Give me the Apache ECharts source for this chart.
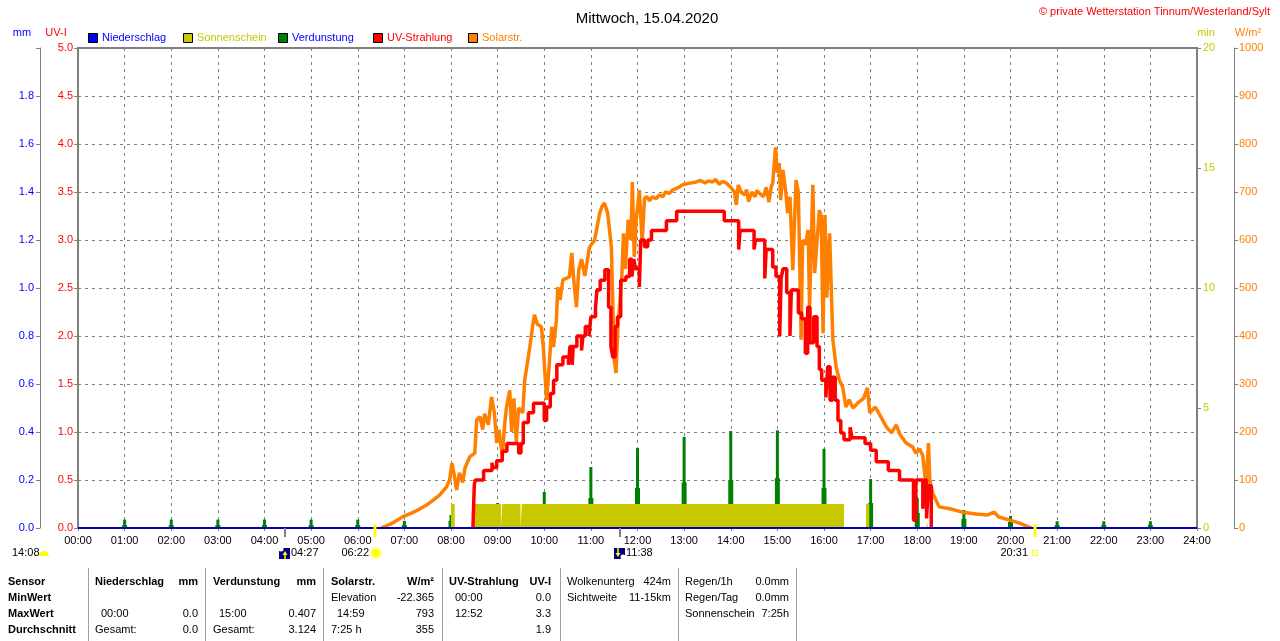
<!DOCTYPE html>
<html><head><meta charset="utf-8">
<script src="https://cdn.jsdelivr.net/npm/echarts@6.0.0/dist/echarts.min.js"></script>
<style>html,body{margin:0;padding:0;background:#fff}#c{width:1280px;height:641px}</style>
</head><body><div id="c"></div>
<script>
// ---------- DATA ----------
const xTickLabels = ['00:00','01:00','02:00','03:00','04:00','05:00','06:00','07:00','08:00','09:00','10:00','11:00','12:00','13:00','14:00','15:00','16:00','17:00','18:00','19:00','20:00','21:00','22:00','23:00','24:00'];

// Solar radiation [hour, W/m²]
const solarData = [[6.5,0],[6.7,8],[6.96,23],[7.2,33],[7.48,48],[7.62,58],[7.76,69],[7.9,85],[7.97,100],[8.02,135],[8.07,110],[8.12,79],[8.18,115],[8.25,95],[8.3,125],[8.4,148],[8.51,156],[8.55,225],[8.62,232],[8.68,205],[8.72,238],[8.76,240],[8.8,215],[8.87,273],[8.93,240],[8.98,177],[9.03,205],[9.1,148],[9.15,215],[9.19,252],[9.26,287],[9.3,200],[9.35,270],[9.4,180],[9.45,250],[9.54,240],[9.58,308],[9.64,345],[9.69,377],[9.75,420],[9.79,444],[9.85,425],[9.94,419],[9.98,377],[10.05,267],[10.1,330],[10.16,419],[10.2,377],[10.26,433],[10.29,502],[10.34,475],[10.4,517],[10.54,523],[10.59,573],[10.63,520],[10.69,460],[10.74,537],[10.8,560],[10.87,525],[10.97,585],[11.08,600],[11.19,656],[11.24,670],[11.29,677],[11.36,656],[11.44,585],[11.5,350],[11.54,323],[11.58,420],[11.66,517],[11.7,614],[11.74,540],[11.8,642],[11.86,600],[11.89,721],[11.93,565],[11.97,640],[12.04,704],[12.1,594],[12.15,687],[12.2,690],[12.26,682],[12.32,690],[12.4,686],[12.47,694],[12.54,690],[12.6,700],[12.68,697],[12.75,704],[12.85,708],[12.97,715],[13.1,718],[13.26,721],[13.35,724],[13.45,719],[13.52,723],[13.61,721],[13.68,726],[13.75,716],[13.82,722],[13.9,719],[14.0,710],[14.08,700],[14.12,673],[14.16,715],[14.22,700],[14.3,694],[14.34,705],[14.38,680],[14.45,700],[14.52,690],[14.56,703],[14.61,698],[14.7,690],[14.76,710],[14.82,679],[14.87,712],[14.9,719],[14.96,793],[15.0,740],[15.04,760],[15.07,683],[15.12,746],[15.18,700],[15.22,656],[15.27,690],[15.33,537],[15.4,725],[15.45,700],[15.51,392],[15.54,600],[15.6,590],[15.66,621],[15.69,460],[15.76,715],[15.8,531],[15.9,662],[15.94,650],[15.98,406],[16.02,652],[16.06,480],[16.12,614],[16.19,392],[16.26,336],[16.33,308],[16.4,294],[16.47,252],[16.54,267],[16.62,250],[16.72,260],[16.85,270],[16.93,292],[16.98,240],[17.1,252],[17.2,235],[17.34,210],[17.45,198],[17.55,215],[17.63,195],[17.76,177],[17.9,169],[17.97,156],[18.05,165],[18.12,150],[18.19,85],[18.24,177],[18.27,100],[18.33,73],[18.47,44],[18.7,40],[18.97,33],[19.26,29],[19.5,27],[19.65,33],[19.75,23],[19.97,17],[20.19,10],[20.4,2],[20.45,0]];

// UV index [hour, UV-I] (stepped)
const uvData = [[8.47,0],[8.5,0.45],[8.52,0.5],[8.7,0.6],[8.88,0.68],[8.9,0.63],[8.98,0.7],[9.1,0.8],[9.2,0.88],[9.45,0.78],[9.5,0.88],[9.55,1.1],[9.66,1.2],[9.77,1.3],[10.0,1.12],[10.05,1.26],[10.13,1.4],[10.2,1.54],[10.27,1.7],[10.4,1.78],[10.52,1.7],[10.55,1.89],[10.6,1.7],[10.62,1.89],[10.7,2.0],[10.8,1.85],[10.83,2.0],[10.88,2.1],[10.96,2.0],[11.0,2.2],[11.1,2.3],[11.13,2.48],[11.2,2.58],[11.3,2.69],[11.38,2.3],[11.43,1.89],[11.47,1.78],[11.52,2.1],[11.57,2.2],[11.64,2.58],[11.75,2.62],[11.83,2.8],[11.88,2.62],[11.92,2.8],[11.96,2.7],[12.04,2.51],[12.07,3.0],[12.15,2.93],[12.22,3.0],[12.3,3.1],[12.62,3.2],[12.84,3.3],[13.86,3.2],[14.17,2.9],[14.2,3.1],[14.5,2.9],[14.53,3.0],[14.73,2.6],[14.76,2.9],[14.9,2.72],[14.97,2.62],[15.05,2.0],[15.08,2.6],[15.12,2.7],[15.2,2.45],[15.27,2.0],[15.3,2.48],[15.45,2.24],[15.52,2.18],[15.6,1.82],[15.65,2.3],[15.7,1.93],[15.78,2.2],[15.85,1.89],[15.9,1.65],[15.95,1.54],[16.04,1.36],[16.08,1.68],[16.13,1.33],[16.18,1.57],[16.24,1.33],[16.3,1.12],[16.36,0.99],[16.43,0.92],[16.56,1.05],[16.6,0.94],[16.88,0.88],[17.0,0.81],[17.12,0.69],[17.38,0.6],[17.62,0.5],[17.92,0.08],[17.97,0.5],[18.12,0.2],[18.15,0.5],[18.2,0.1],[18.24,0.44],[18.3,0]];

// Sunshine minutes per minute [hour, min] (stepped)
const sunshineData = [[0,0],[8.0,1],[8.08,0],[8.46,1],[9.07,0],[9.1,1],[9.49,0],[9.52,1],[16.43,0],[16.9,1],[16.97,0],[18.2,0.3],[18.23,0],[24,0]];

// Evaporation (mm) at each full hour, main spike and lower shoulder
const evapHours    = [1,2,3,4,5,6,7,8,9,10,11,12,13,14,15,16,17,18,19,20,21,22,23];
const evapPeak     = [0.035,0.035,0.035,0.035,0.035,0.035,0.03,0.054,0.104,0.15,0.254,0.333,0.38,0.404,0.407,0.33,0.204,0.125,0.075,0.05,0.028,0.028,0.028];
const evapShoulder = [0.012,0.012,0.012,0.012,0.012,0.012,0.012,0.03,0.046,0.075,0.125,0.167,0.19,0.2,0.208,0.167,0.104,0.063,0.038,0.025,0.012,0.012,0.012];

// Precipitation (mm)
const rainData = [[0,0],[24,0]];

// Astronomical events under the axis
const astroTimes  = [4.45, 6.3667, 11.6333, 20.5167];
const astroLabels = ['04:27','06:22','11:38','20:31'];
const astroKinds  = ['moon','sunrise','moon2','sunset'];

// Legend
const legendNames  = ['Niederschlag','Sonnenschein','Verdunstung','UV-Strahlung','Solarstr.'];
const legendColors = ['#0000ff','#c8c800','#008000','#ff0000','#ff8000'];
const legendText   = ['#0000ff','#c8c800','#0000ff','#ff0000','#ff8000'];

// Summary table
const tableLabels = ['Sensor','MinWert','MaxWert','Durchschnitt'];
const tableCols = [
  {head:['Niederschlag','mm'], rows:[['',''],['00:00','0.0'],['Gesamt:','0.0']]},
  {head:['Verdunstung','mm'], rows:[['',''],['15:00','0.407'],['Gesamt:','3.124']]},
  {head:['Solarstr.','W/m²'], rows:[['Elevation','-22.365'],['14:59','793'],['7:25 h','355']]},
  {head:['UV-Strahlung','UV-I'], rows:[['00:00','0.0'],['12:52','3.3'],['','1.9']]}
];
const tableExtra = [
  [['Wolkenunterg','424m'],['Sichtweite','11-15km']],
  [['Regen/1h','0.0mm'],['Regen/Tag','0.0mm'],['Sonnenschein','7:25h']]
];

// ---------- CHART ----------
const FONT = '"Liberation Sans", Arial, sans-serif';
const GREY = '#808080';
const chart = echarts.init(document.getElementById('c'), null, {renderer:'canvas'});

const tickStyle = {show:true, length:4, lineStyle:{color:GREY}};
const option = {
  animation:false,
  backgroundColor:'#ffffff',
  textStyle:{fontFamily:FONT},
  title:{text:'Mittwoch, 15.04.2020', left:642, top:6, textAlign:'center',
         textStyle:{fontSize:15, fontWeight:'normal', color:'#000', fontFamily:FONT}},
  grid:{left:78, right:83, top:48, bottom:113, show:true, borderColor:GREY, borderWidth:2,
        containLabel:false, outerBoundsMode:'none'},
  xAxis:{type:'value', min:0, max:24, interval:1,
    axisLine:{show:true, lineStyle:{color:GREY, width:1}},
    axisTick:{show:true, length:3, lineStyle:{color:GREY}},
    axisLabel:{color:'#000', fontSize:11, margin:7, showMinLabel:true, showMaxLabel:true, hideOverlap:false,
      formatter:v=>xTickLabels[Math.round(v)]},
    splitLine:{show:true, lineStyle:{color:GREY, type:[3,4], width:1}}},
  yAxis:[
    {type:'value', position:'left', min:0, max:5, interval:0.5,
      axisLine:{show:false}, axisTick:tickStyle,
      axisLabel:{color:'#ff0000', fontSize:11, margin:5, showMinLabel:true, showMaxLabel:true, formatter:v=>v.toFixed(1)},
      splitLine:{show:true, lineStyle:{color:GREY, type:[3,4], width:1}}},
    {type:'value', position:'left', offset:38, min:0, max:2, interval:0.2,
      axisLine:{show:true, lineStyle:{color:GREY}}, axisTick:tickStyle,
      axisLabel:{color:'#0000ff', fontSize:11, margin:6, showMinLabel:true, showMaxLabel:true,
        formatter:v=>(v>1.99?'':v.toFixed(1))},
      splitLine:{show:false}},
    {type:'value', position:'right', min:0, max:20, interval:5,
      axisLine:{show:false}, axisTick:tickStyle,
      axisLabel:{color:'#c8c800', fontSize:11, margin:6, showMinLabel:true, showMaxLabel:true, formatter:v=>String(v)},
      splitLine:{show:false}},
    {type:'value', position:'right', offset:37, min:0, max:1000, interval:100,
      axisLine:{show:true, lineStyle:{color:GREY}}, axisTick:tickStyle,
      axisLabel:{color:'#ff8000', fontSize:11, margin:5, showMinLabel:true, showMaxLabel:true, formatter:v=>String(v)},
      splitLine:{show:false}}
  ],
  series:[
    {name:'Sonnenschein', type:'line', yAxisIndex:2, step:'end', data:sunshineData, symbol:'none',
      lineStyle:{width:0, opacity:0}, areaStyle:{color:'#c8c800', opacity:1, origin:'start'},
      itemStyle:{color:'#c8c800'}, silent:true},
    {name:'Verdunstung', type:'custom', yAxisIndex:1,
      data:evapHours.map((h,i)=>[h,evapPeak[i],evapShoulder[i]]),
      encode:{x:0, y:1}, silent:true,
      renderItem:(params, api)=>{
        const p = api.coord([api.value(0), api.value(1)]);
        const s = api.coord([api.value(0), api.value(2)]);
        const b = api.coord([api.value(0), 0]);
        return {type:'group', children:[
          {type:'rect', shape:{x:p[0]-2.5, y:s[1], width:5, height:b[1]-s[1]}, style:{fill:'#008000'}},
          {type:'rect', shape:{x:p[0]-1.5, y:p[1], width:3, height:b[1]-p[1]}, style:{fill:'#008000'}}
        ]};
      }},
    {name:'Solarstr.', type:'line', yAxisIndex:3, data:solarData, symbol:'none',
      lineStyle:{color:'#ff8000', width:3.5}, itemStyle:{color:'#ff8000'}, silent:true},
    {name:'UV-Strahlung', type:'line', yAxisIndex:0, step:'end', data:uvData, symbol:'none',
      lineStyle:{color:'#ff0000', width:3.5}, itemStyle:{color:'#ff0000'}, silent:true},
    {name:'Niederschlag', type:'line', yAxisIndex:1, data:rainData, symbol:'none',
      lineStyle:{color:'#0000c0', width:2}, itemStyle:{color:'#0000c0'}, silent:true}
  ]
};
chart.setOption(option);

// ---------- GRAPHICS (text, legend, annotations, table) ----------
const g = [];
function txt(text, x, y, color, opts) {
  opts = opts || {};
  g.push({type:'text', x:x, y:y, silent:true, z:100, style:{text:text, fill:color,
    font:(opts.bold?'bold ':'') + (opts.size||11) + 'px ' + FONT,
    textAlign:opts.align||'left', textVerticalAlign:'middle'}});
}
function line(x1,y1,x2,y2,color,w){
  g.push({type:'line', silent:true, z:100, shape:{x1:x1,y1:y1,x2:x2,y2:y2}, style:{stroke:color, lineWidth:w}});
}
function rect(x,y,w,h,fill,stroke){
  g.push({type:'rect', silent:true, z:100, shape:{x:x,y:y,width:w,height:h}, style:{fill:fill, stroke:stroke||null, lineWidth:1}});
}

// copyright
txt('© private Wetterstation Tinnum/Westerland/Sylt', 1270, 12, '#ff0000', {align:'right'});
// axis names
txt('mm', 22, 33, '#0000ff', {align:'center'});
txt('UV-I', 56, 33, '#ff0000', {align:'center'});
txt('min', 1206, 33, '#c8c800', {align:'center'});
txt('W/m²', 1248, 33, '#ff8000', {align:'center'});
// legend
legendNames.forEach((n,i)=>{
  const lx = 88 + i*95;
  rect(lx+0.5, 33.5, 9, 9, legendColors[i], '#000');
  txt(n, lx+14, 38, legendText[i]);
});

// astronomical annotations
const px = t => chart.convertToPixel({xAxisIndex:0}, t);
const axisY = chart.convertToPixel({yAxisIndex:0}, 0);
astroTimes.forEach((t,i)=>{
  const x = Math.round(px(t));
  const k = astroKinds[i];
  const ty = axisY + 25;
  if (k === 'moon' || k === 'moon2') {
    line(x, axisY, x, axisY+9, GREY, 2);
    rect(x-6, axisY+20, 11, 11, '#000080');
    if (k === 'moon') {
      g.push({type:'circle', silent:true, z:101, shape:{cx:x-4, cy:axisY+21, r:2.5}, style:{fill:'#ffffff'}});
      g.push({type:'polygon', silent:true, z:101, shape:{points:[[x,axisY+23],[x-2.5,axisY+27],[x+2.5,axisY+27]]}, style:{fill:'#ffff00'}});
      line(x, axisY+26, x, axisY+31, '#ffff00', 1.5);
    } else {
      g.push({type:'polygon', silent:true, z:101, shape:{points:[[x-2,axisY+29],[x-4.5,axisY+25],[x+0.5,axisY+25]]}, style:{fill:'#ffff00'}});
      line(x-2, axisY+20, x-2, axisY+25, '#ffff00', 1.5);
      g.push({type:'circle', silent:true, z:101, shape:{cx:x+3, cy:axisY+29, r:2.5}, style:{fill:'#ffffff'}});
    }
    txt(astroLabels[i], x+6, ty, '#000');
  } else {
    line(x, axisY-4, x, axisY+9, '#ffff00', 3);
    if (k === 'sunrise') {
      g.push({type:'circle', silent:true, z:101, shape:{cx:x+1, cy:ty, r:6}, style:{fill:'#ffffa0'}});
      g.push({type:'circle', silent:true, z:101, shape:{cx:x+1, cy:ty, r:4}, style:{fill:'#ffff00'}});
      txt(astroLabels[i], x-6, ty, '#000', {align:'right'});
    } else {
      rect(x-2.5, ty-2.5, 5, 5, null, '#ffff00');
      txt(astroLabels[i], x-7, ty, '#000', {align:'right'});
    }
  }
});
// moon set at left
txt('14:08', 12, axisY+25, '#000');
g.push({type:'sector', silent:true, z:101, shape:{cx:44, cy:axisY+28, r0:0, r:5, startAngle:Math.PI, endAngle:2*Math.PI}, style:{fill:'#ffff00'}});

// summary table
const rowY = [582, 598, 614, 630];
const seps = [88, 205, 323, 442, 560, 678, 796];
seps.forEach(sx=>line(sx+0.5, 568, sx+0.5, 641, '#a0a0a0', 1));
tableLabels.forEach((t,r)=>txt(t, 8, rowY[r], '#000', {bold:true}));
const colLeft  = [95, 213, 331, 449];
const colRight = [198, 316, 434, 551];
tableCols.forEach((c,ci)=>{
  txt(c.head[0], colLeft[ci], rowY[0], '#000', {bold:true});
  txt(c.head[1], colRight[ci], rowY[0], '#000', {bold:true, align:'right'});
  c.rows.forEach((rw,ri)=>{
    const indent = /^\d\d:\d\d$/.test(rw[0]) ? 6 : 0;
    if (rw[0]) txt(rw[0], colLeft[ci]+indent, rowY[ri+1], '#000');
    if (rw[1]) txt(rw[1], colRight[ci], rowY[ri+1], '#000', {align:'right'});
  });
});
const extraLeft = [567, 685], extraRight = [671, 789];
tableExtra.forEach((col,ci)=>{
  col.forEach((rw,ri)=>{
    txt(rw[0], extraLeft[ci], rowY[ri], '#000');
    txt(rw[1], extraRight[ci], rowY[ri], '#000', {align:'right'});
  });
});

chart.setOption({graphic: g});
</script>
</body></html>
